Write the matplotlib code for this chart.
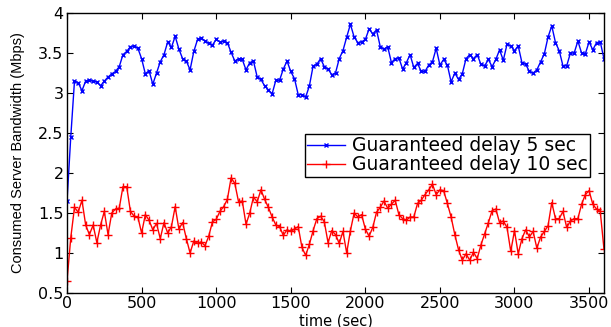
import numpy as np
import matplotlib
matplotlib.use('Agg')
from matplotlib import pyplot as plt

# sampled every 25 sec, 0..3600
delay5 = [1.65, 2.45, 3.15, 3.13, 3.03, 3.15, 3.16, 3.15, 3.14, 3.09,
          3.15, 3.20, 3.24, 3.27, 3.33, 3.48, 3.52, 3.58, 3.59, 3.56,
          3.43, 3.24, 3.28, 3.11, 3.25, 3.39, 3.48, 3.64, 3.57, 3.71,
          3.55, 3.43, 3.40, 3.29, 3.52, 3.67, 3.69, 3.65, 3.62, 3.60,
          3.67, 3.64, 3.65, 3.63, 3.51, 3.40, 3.43, 3.42, 3.29,
          3.38, 3.40, 3.20, 3.17, 3.09, 3.04, 2.99, 3.16, 3.16, 3.30,
          3.40, 3.27, 3.18, 2.98, 2.98, 2.95, 3.09, 3.34, 3.36, 3.43,
          3.33, 3.30, 3.23, 3.25, 3.43, 3.53, 3.70, 3.86, 3.70, 3.63,
          3.64, 3.67, 3.80, 3.74, 3.79, 3.58, 3.55, 3.58, 3.38, 3.43,
          3.44, 3.30, 3.38, 3.48, 3.32, 3.37, 3.27, 3.27,
          3.35, 3.39, 3.56, 3.35, 3.42, 3.35, 3.14, 3.25, 3.17, 3.24,
          3.43, 3.48, 3.43, 3.48, 3.36, 3.34, 3.42, 3.33, 3.42, 3.54,
          3.41, 3.61, 3.59, 3.53, 3.59, 3.38, 3.36, 3.27, 3.25, 3.29,
          3.39, 3.49, 3.70, 3.84, 3.63, 3.53, 3.34, 3.34, 3.50, 3.50,
          3.65, 3.50, 3.49, 3.64, 3.54, 3.63, 3.64, 3.43]

delay10 = [0.65, 1.19, 1.57, 1.51, 1.66, 1.35, 1.23, 1.35, 1.13, 1.35,
           1.52, 1.23, 1.50, 1.55, 1.56, 1.83, 1.83, 1.52, 1.46, 1.45,
           1.25, 1.48, 1.41, 1.29, 1.37, 1.18, 1.38, 1.25, 1.33, 1.58,
           1.30, 1.38, 1.18, 1.00, 1.15, 1.12, 1.14, 1.09, 1.21, 1.39,
           1.42, 1.52, 1.58, 1.67, 1.94, 1.87, 1.64, 1.65, 1.36,
           1.50, 1.70, 1.64, 1.79, 1.67, 1.57, 1.45, 1.35, 1.33, 1.22,
           1.29, 1.27, 1.30, 1.33, 1.07, 0.97, 1.11, 1.28, 1.43, 1.46,
           1.39, 1.13, 1.28, 1.23, 1.12, 1.27, 1.00, 1.28, 1.50, 1.45,
           1.48, 1.30, 1.21, 1.32, 1.51, 1.57, 1.65, 1.56, 1.61, 1.66,
           1.48, 1.43, 1.41, 1.45, 1.45, 1.62, 1.66, 1.73,
           1.79, 1.86, 1.73, 1.79, 1.78, 1.62, 1.45, 1.23, 1.04, 0.91,
           0.99, 0.91, 1.01, 0.93, 1.10, 1.24, 1.38, 1.53, 1.55, 1.38,
           1.40, 1.32, 1.02, 1.28, 0.99, 1.18, 1.29, 1.20, 1.27, 1.06,
           1.20, 1.27, 1.34, 1.63, 1.43, 1.43, 1.52, 1.32, 1.40, 1.43,
           1.43, 1.61, 1.73, 1.78, 1.61, 1.55, 1.52, 1.05]

labels = ['Guaranteed delay 5 sec', 'Guaranteed delay 10 sec']
step = 25
t = np.arange(len(delay5)) * step

plt.rcParams['font.family'] = ['DejaVu Sans']

fig = plt.figure(figsize=(6.11, 3.27), dpi=100)
ax = fig.add_axes([0.1097, 0.104, 0.8788, 0.856])

ax.plot(t, delay5, color='#0000ff', marker='x', markersize=3.5, linewidth=1.0, label=labels[0])
ax.plot(t, delay10, color='#ff0000', marker='+', markersize=6, linewidth=1.0, label=labels[1])

ax.set_xlim(0, 3600)
ax.set_ylim(0.5, 4)
ax.set_xticks(np.arange(0, 3501, 500))
ax.set_yticks(np.arange(0.5, 4.01, 0.5))
ax.set_yticklabels(['0.5', '1', '1.5', '2', '2.5', '3', '3.5', '4'])
ax.tick_params(direction='in', top=True, right=True, labelsize=11.5, length=4, pad=2.5)
for s in ax.spines.values():
    s.set_linewidth(1.0)

ax.set_xlabel('time (sec)', fontsize=10.5)
ax.xaxis.set_label_coords(0.5, -0.072)
ax.set_ylabel('Consumed Server Bandwidth (Mbps)', fontsize=10.5, family='Liberation Sans')
ax.yaxis.set_label_coords(-0.078, 0.5)

leg = ax.legend(loc='upper left', bbox_to_anchor=(0.443, 0.568), borderaxespad=0,
                fontsize=13.5, fancybox=False, framealpha=1, edgecolor='black',
                handlelength=2.0, handletextpad=0.4, borderpad=0.12, labelspacing=0.0)
leg.get_frame().set_linewidth(1.0)

plt.savefig('out.png', dpi=100)
